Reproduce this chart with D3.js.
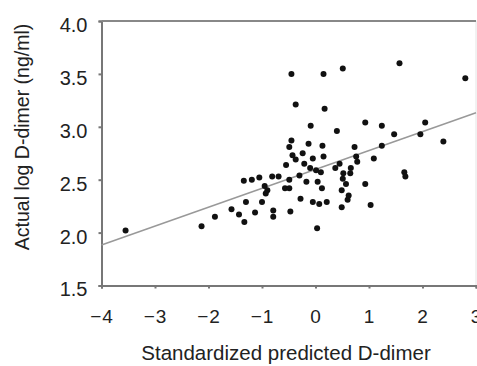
<!DOCTYPE html>
<html>
<head>
<meta charset="utf-8">
<script src="https://cdn.jsdelivr.net/npm/d3@7"></script>
<style>
  body { margin: 0; background: #fff; }
  text { font-family: "Liberation Sans", Arial, sans-serif; fill: #222; }
</style>
</head>
<body>
<svg id="chart" width="477" height="366"></svg>
<script>
// standardized predicted D-dimer (x) vs actual log D-dimer (y)
const predicted = [-3.55, -2.13, -1.88, -1.57, -1.43, -1.33, -1.30, -1.34, -1.19, -1.05,
  -1.13, -1.00, -0.95, -0.90, -0.93, -0.81, -0.69, -0.79, -0.79, -0.57,
  -0.49, -0.47, -0.49, -0.55, -0.49, -0.45, -0.43, -0.45, -0.37, -0.30,
  -0.28, -0.24, -0.21, -0.17, -0.13, -0.09, -0.10, -0.05, -0.05, 0.03,
  0.04, 0.07, 0.12, 0.13, 0.15, 0.10, 0.01, 0.21, 0.15, 0.17,
  0.40, 0.37, 0.45, 0.49, 0.49, 0.51, 0.52, 0.57, 0.60, 0.62,
  0.65, 0.66, 0.73, 0.76, 0.78, 0.93, 0.93, 1.03, 1.09, 1.24,
  1.24, 1.47, 1.57, 1.66, 1.68, 1.96, 2.05, 2.39, 2.80, 0.51,
  -0.37];
const actual = [2.02, 2.06, 2.15, 2.22, 2.17, 2.10, 2.29, 2.49, 2.50, 2.52,
  2.19, 2.29, 2.44, 2.40, 2.37, 2.53, 2.53, 2.21, 2.15, 2.42,
  2.42, 2.20, 2.50, 2.64, 2.81, 2.87, 2.73, 3.50, 3.21, 2.54,
  2.32, 2.75, 2.65, 2.48, 2.84, 3.01, 2.61, 2.70, 2.29, 2.04,
  2.48, 2.27, 2.42, 2.82, 2.72, 2.57, 2.59, 2.29, 3.50, 3.17,
  2.96, 2.61, 2.65, 2.40, 2.24, 3.55, 2.56, 2.46, 2.31, 2.35,
  2.56, 2.61, 2.81, 2.72, 2.67, 3.04, 2.46, 2.26, 2.70, 3.01,
  2.82, 2.93, 3.60, 2.57, 2.53, 2.93, 3.04, 2.86, 3.46, 2.51,
  2.69];
const fitX = [-4, 3];
const fitY = [1.883, 3.133];
const xTicks = [-4, -3, -2, -1, 0, 1, 2, 3];
const yTicks = [1.5, 2.0, 2.5, 3.0, 3.5, 4.0];

const svg = d3.select('#chart');
const m = { left: 101.5, right: 476, top: 21, bottom: 285.5 };

const x = d3.scaleLinear().domain([-4, 3]).range([m.left, m.right]);
const y = d3.scaleLinear().domain([1.5, 4]).range([m.bottom, m.top]);

// frame
svg.append('rect')
  .attr('x', m.left).attr('y', m.top)
  .attr('width', m.right - m.left).attr('height', m.bottom - m.top)
  .attr('fill', 'none').attr('stroke', '#e4e4e4').attr('stroke-width', 1);

const xAxis = svg.append('g')
  .attr('transform', 'translate(0,' + m.bottom + ')')
  .call(d3.axisBottom(x).tickValues(xTicks).tickSize(3).tickPadding(21)
    .tickFormat(d => d3.format('')(d).replace('-', '\u2212')));
const yAxis = svg.append('g')
  .attr('transform', 'translate(' + m.left + ',0)')
  .call(d3.axisLeft(y).tickValues(yTicks).tickSize(3).tickPadding(11).tickFormat(d3.format('.1f')));

svg.append('line')
  .attr('x1', m.left).attr('x2', m.right).attr('y1', m.top).attr('y2', m.top)
  .attr('stroke', '#888').attr('stroke-width', 2);

[xAxis, yAxis].forEach(g => {
  g.select('.domain').attr('stroke', '#777').attr('stroke-width', 2);
  g.selectAll('.tick line').attr('stroke', '#777').attr('stroke-width', 2);
  g.selectAll('.tick text').attr('fill', '#222');
});
xAxis.selectAll('.tick text').style('font-size', '19px').style('letter-spacing', '1px');
yAxis.selectAll('.tick text').style('font-size', '20px').attr('y', 4);

// regression line
svg.append('line')
  .attr('x1', x(fitX[0])).attr('y1', y(fitY[0]))
  .attr('x2', x(fitX[1])).attr('y2', y(fitY[1]))
  .attr('stroke', '#999').attr('stroke-width', 1.5);

// points
svg.append('g').selectAll('circle')
  .data(predicted)
  .enter()
  .append('circle')
  .attr('cx', d => x(d))
  .attr('cy', (d, i) => y(actual[i]))
  .attr('r', 3)
  .attr('fill', '#111');

svg.append('text')
  .attr('x', 286).attr('y', 360)
  .attr('text-anchor', 'middle')
  .style('font-size', '20.5px')
  .text('Standardized predicted D-dimer');

svg.append('text')
  .attr('transform', 'translate(29,137) rotate(-90)')
  .attr('text-anchor', 'middle')
  .style('font-size', '19.5px')
  .text('Actual log D-dimer (ng/ml)');
</script>
</body>
</html>
